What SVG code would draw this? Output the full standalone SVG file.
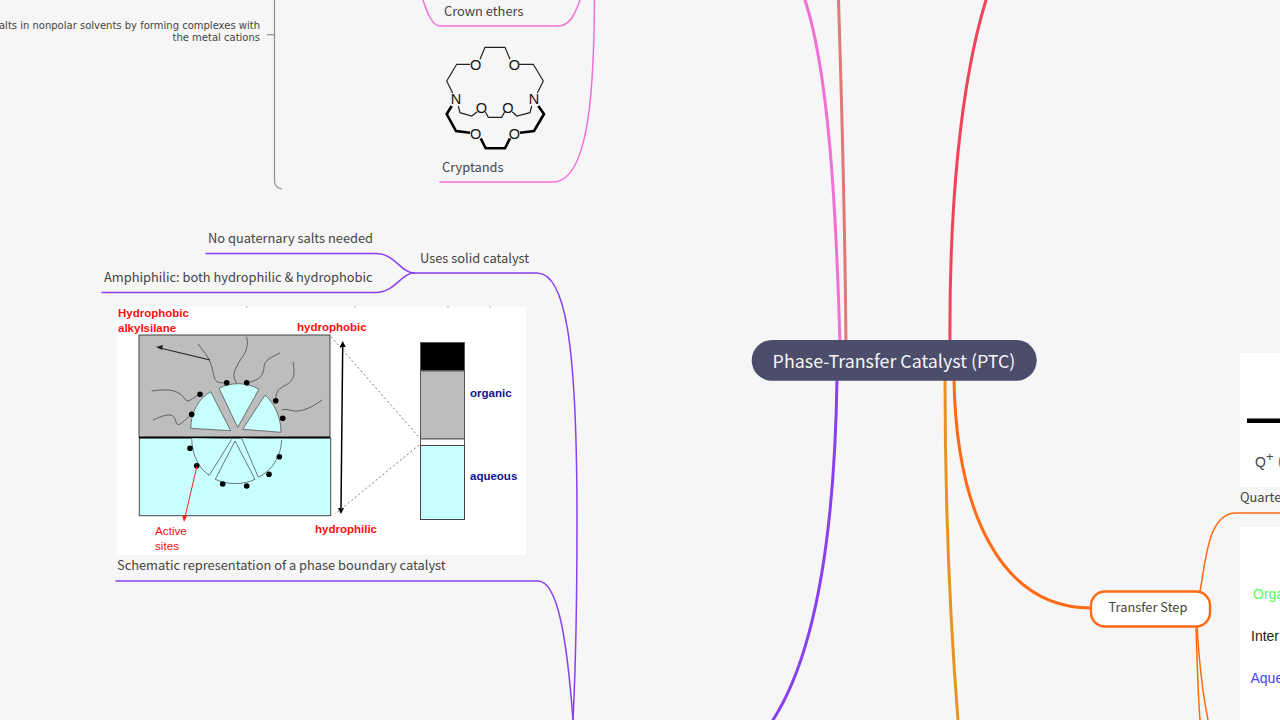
<svg xmlns="http://www.w3.org/2000/svg" width="1280" height="720" viewBox="0 0 1280 720">
<style>
text{font-family:"Noto Sans CJK SC","Noto Sans",sans-serif;font-size:12.85px;fill:#444}
.c{fill:none;stroke-linecap:round}
.p{stroke:#f070d8;stroke-width:1.5}
.v{stroke:#8a3ff0;stroke-width:1.5}
.o{stroke:#ff6a13;stroke-width:1.5}
.ar{font-family:"Liberation Sans",sans-serif;font-weight:700;font-size:11.5px;fill:#ff1010}
.ab{font-family:"Liberation Sans",sans-serif;font-weight:700;font-size:11.5px;fill:#10108f}
.at{font-family:"Liberation Sans",sans-serif;font-size:11.7px;fill:#ff1010}
.s{font-family:"DejaVu Sans",sans-serif;font-size:10px;fill:#444}
.r{font-family:"Liberation Sans",sans-serif;font-size:14px}
.m{fill:none;stroke:#222;stroke-width:1.2}
.mb{fill:none;stroke:#000;stroke-width:2.6}
.mt{font-family:"Liberation Sans",sans-serif;font-size:14.5px;fill:#111;text-anchor:middle}
.g{fill:none;stroke:#555;stroke-width:.9}
.w{fill:#c8ffff;stroke:#555;stroke-width:.8}
.d{fill:#000}
</style>
<rect width="1280" height="720" fill="#f6f6f6"/>
<g id="connectors">
<path class="c" stroke="#f070d8" stroke-width="3" d="M840 345C836 200 828 70 805 0"/>
<path class="c" stroke="#e07a78" stroke-width="3" d="M846 345C845 230 842 110 838.500 0"/>
<path class="c" stroke="#ef4458" stroke-width="3" d="M950 345C949 210 960 85 986 0"/>
<path class="c" stroke="#8a3ff0" stroke-width="3" d="M837 378C835 520 818 650 773 720"/>
<path class="c" stroke="#e8921f" stroke-width="3" d="M945 378C945 500 950 620 958 720"/>
<path class="c" stroke="#ff6a13" stroke-width="3" d="M954 378C956 510 1000 608 1091 608"/>
<path class="c o" d="M1200 591C1206 560 1208 513 1236 513H1280"/>
<path class="c o" d="M1196 626C1197 660 1198 695 1200 720"/>
<path class="c o" d="M1197 626C1199 660 1203 695 1208 720"/>
<path class="c p" d="M594.500 0C594 70 592 182 553 182H440"/>
<path class="c p" d="M580 0C575 14 570 26 558 26H440C432 26 427 12 423 0"/>
<path class="c v" d="M414 273H537C565 273 577 340 577 520C577 610 575 680 573 720"/>
<path class="c v" d="M414 273C401 273 395 253.500 376 253.500H206"/>
<path class="c v" d="M414 273C401 273 395 292.500 376 292.500H102"/>
<path class="c v" d="M116 581H538C558 581 567 640 573 720"/>
<path fill="none" stroke="#909090" stroke-width="1.200" d="M274.500 0V181C274.500 185 277 188 282 189"/>
<path fill="none" stroke="#909090" stroke-width="1.200" d="M267 34.700H274.500"/>
</g>
<g id="node-solubilize">
<text class="s" x="260" y="29" text-anchor="end">alts in nonpolar solvents by forming complexes with</text>
<text class="s" x="260" y="41" text-anchor="end">the metal cations</text>
</g>
<g id="node-crown"><text x="444" y="16">Crown ethers</text></g>
<g id="node-cryptands">
<path class="m" d="M470 64.300H456.700L446.700 81 452.700 93M480 59.300L485 47.300H505L510 59.300M519.300 64.300H533.300L543.300 81 537.300 93M458.300 106L460 112.700 471.700 116 477.300 111.700M485.300 111.700L488.300 117.300H501.700L504.700 111.700M512.300 111.700L516.700 116 530 112.700 531.700 106"/>
<path class="mb" d="M451.700 106L446.700 114 456 131 470 132.700M480.700 138.300L485.700 148.300H505L510 138.300M520 132.700L534 131 544 114 538.300 106"/>
<text class="mt" x="456" y="104">N</text><text class="mt" x="534" y="104">N</text>
<text class="mt" x="475.700" y="69.500">O</text><text class="mt" x="514.300" y="69.500">O</text>
<text class="mt" x="481.300" y="112.500">O</text><text class="mt" x="508" y="112.500">O</text>
<text class="mt" x="475.700" y="138.500">O</text><text class="mt" x="514.300" y="138.500">O</text>
<text x="442" y="171.500">Cryptands</text>
</g>
<g id="node-solid"><text x="420" y="262.500">Uses solid catalyst</text></g>
<g id="node-noquat"><text x="208" y="242.500">No quaternary salts needed</text></g>
<g id="node-amphi"><text x="104" y="282">Amphiphilic: both hydrophilic &amp; hydrophobic</text></g>
<g id="node-schematic">
<rect x="117" y="306.500" width="409" height="248.500" fill="#fff"/>
<path stroke="#555" stroke-width="1" d="M246.700 306.500v1M355 306.500v1M448 306.500v1M490 306.500v1"/>
<rect x="139" y="335" width="191" height="102" fill="#bdbdbd" stroke="#444" stroke-width="1"/>
<rect x="139.300" y="438" width="191.400" height="77.700" fill="#c8ffff" stroke="#444" stroke-width="1"/>
<path stroke="#000" stroke-width="1.500" d="M139 437.500H330"/>
<path class="w" d="M190.700 428.300C191 412 199 398 210.700 391.700L230.700 430.700Z"/>
<path class="w" d="M219 388.300C231 382 247 382 259 389.300L237.700 427.300Z"/>
<path class="w" d="M265 395C275 404 281 418 281 432.300L242.700 429.300Z"/>
<path fill="#c8ffff" stroke="#555" stroke-width=".8" d="M191.700 438.300C192 454 198 468 209.300 475.300L231.700 439.300M241.700 438.300L258.300 477.300C272 471 281 456 281.700 440"/>
<path class="w" d="M235 441L215.300 479.300C227 485 244 485 255 479.300Z"/>
<path class="g" d="M226.700 382.700C214 384 215 380 212 368C210 358 204 352 198 344"/>
<path class="g" d="M236.700 383C232 376 234 372 237 366C240 358 250 352 246.700 336.700"/>
<path class="g" d="M246.700 382.700C258 381 264 376 264 367C264 360 272 357 280 353"/>
<path class="g" d="M275.700 400.700C276 392 277 390 284 386C292 382 296 378 293 362"/>
<path class="g" d="M281.700 410C288 408 292 412 298 411C308 410 316 404 322 400"/>
<path class="g" d="M200 394.300C192 398 188 404 185 399C180 391 170 388 151.700 391"/>
<path class="g" d="M191.700 414.300C184 420 178 429 176 422C174 412 166 414 153 420"/>
<circle class="d" cx="200" cy="394.300" r="2.800"/><circle class="d" cx="191.700" cy="414.300" r="2.800"/><circle class="d" cx="226.700" cy="382.700" r="2.800"/><circle class="d" cx="246.700" cy="382.700" r="2.800"/><circle class="d" cx="275.700" cy="400.700" r="2.800"/><circle class="d" cx="282.700" cy="418.300" r="2.800"/>
<circle class="d" cx="190" cy="448.300" r="2.800"/><circle class="d" cx="196.700" cy="465.700" r="2.800"/><circle class="d" cx="222.700" cy="484" r="2.800"/><circle class="d" cx="246.700" cy="486" r="2.800"/><circle class="d" cx="269" cy="474.300" r="2.800"/><circle class="d" cx="279.300" cy="456.700" r="2.800"/>
<path stroke="#222" stroke-width="1.100" fill="none" d="M210 360L160 348"/><path fill="#222" d="M156 347L163 345 162 350Z"/>
<path stroke="#ff2020" stroke-width="1" d="M197 466L185 517"/><path fill="#ff2020" d="M184 522L182 515 187 516Z"/>
<path stroke="#000" stroke-width="1.500" d="M342.700 346L341 509"/><path fill="#000" d="M342.700 341L345.700 347H339.700ZM341 514L338 508H344Z"/>
<path stroke="#777" stroke-width="1" stroke-dasharray="2 2.500" fill="none" d="M331 336.700L418 436M419 445L335 514"/>
<rect x="420.500" y="342.500" width="44" height="28" fill="#000" stroke="#555"/>
<rect x="420.500" y="371" width="44" height="68" fill="#bdbdbd" stroke="#555"/>
<rect x="420.500" y="439" width="44" height="6.500" fill="#fff" stroke="#555"/>
<rect x="420.500" y="445.500" width="44" height="74" fill="#c8ffff" stroke="#444"/>
<text class="ar" x="118" y="316.500">Hydrophobic</text><text class="ar" x="118" y="332">alkylsilane</text>
<text class="ar" x="297" y="331">hydrophobic</text><text class="ar" x="315" y="533">hydrophilic</text>
<text class="ab" x="470" y="397">organic</text><text class="ab" x="470" y="480">aqueous</text>
<text class="at" x="155" y="535">Active</text>
<text class="at" x="155" y="550">sites</text>
<text x="117" y="569.500">Schematic representation of a phase boundary catalyst</text>
</g>
<g id="node-root">
<rect x="751.700" y="340" width="285" height="40.700" rx="20.300" fill="#4b4d6b"/>
<text x="894" y="367.500" text-anchor="middle" style="font-size:17.850px;fill:#f6f6f6">Phase-Transfer Catalyst (PTC)</text>
</g>
<g id="node-transfer">
<rect x="1091" y="591.500" width="119" height="35" rx="14" fill="#fff" stroke="#ff6a13" stroke-width="2.400"/>
<text x="1148" y="612" text-anchor="middle">Transfer Step</text>
</g>
<g id="node-quat">
<rect x="1240" y="353" width="40" height="134" fill="#fff"/>
<path stroke="#000" stroke-width="4.500" d="M1247 420.700H1280"/>
<text class="r" x="1255" y="467" style="fill:#444">Q</text>
<text class="r" x="1266" y="461" style="font-size:13px;fill:#444">+</text>
<text class="r" x="1278" y="466" style="fill:#864">(</text>
<text x="1240" y="502">Quarte</text>
</g>
<g id="node-phases">
<rect x="1240" y="527" width="40" height="193" fill="#fff"/>
<text class="r" x="1253" y="599" style="fill:#55ff55">Orga</text>
<text class="r" x="1251" y="641" style="fill:#222">Inter</text>
<text class="r" x="1250.500" y="683" style="fill:#4444ff">Aque</text>
</g>
</svg>
